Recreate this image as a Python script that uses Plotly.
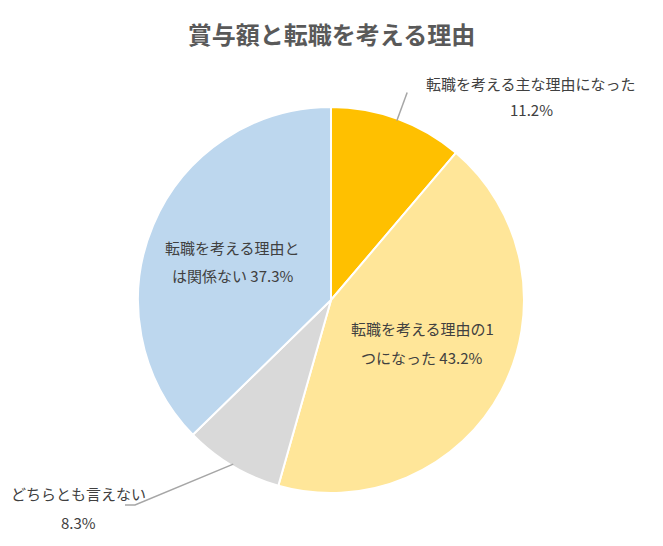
import math
import plotly.graph_objects as go

title = "賞与額と転職を考える理由"
labels = ["転職を考える主な理由になった", "転職を考える理由の1つになった", "どちらとも言えない", "転職を考える理由とは関係ない"]
values = [11.2, 43.2, 8.3, 37.3]
colors = ["#FFC000", "#FFE699", "#D9D9D9", "#BDD7EE"]
label_lines = [
    ["転職を考える主な理由になった", "11.2%"],
    ["転職を考える理由の1", "つになった 43.2%"],
    ["どちらとも言えない", "8.3%"],
    ["転職を考える理由と", "は関係ない 37.3%"],
]

W, H = 663, 546
cx, cy, R = 331, 300, 193  # pixel centre / radius of pie

def px(x):
    return x / W

def py(y):
    return 1 - y / H

fig = go.Figure(go.Pie(
    labels=labels, values=values, sort=False, direction="clockwise", rotation=0,
    marker=dict(colors=colors, line=dict(color="white", width=2)),
    textinfo="none", hoverinfo="label+percent", showlegend=False,
    domain=dict(x=[px(cx - R), px(cx + R)], y=[py(cy + R), py(cy - R)]),
))

# slice mid angles (degrees clockwise from top)
total = sum(values)
mids = []
acc = 0
for v in values:
    mids.append((acc + v / 2) / total * 360)
    acc += v

def polar(angle, r):
    a = math.radians(angle)
    return cx + r * math.sin(a), cy - r * math.cos(a)

font = dict(family="Noto Sans CJK JP, Meiryo, sans-serif", size=15, color="#404040")

# label placements: (centre x, first line y, second line y) in pixels
ann_pos = [(531, 83, 110), (422, 328, 357), (78, 493, 522), (233, 248, 275)]
for lines, (x, ya, yb) in zip(label_lines, ann_pos):
    for t, y in zip(lines, (ya, yb)):
        fig.add_annotation(x=px(x), y=py(y), xref="paper", yref="paper", text=t,
                           showarrow=False, font=font, align="center",
                           xanchor="center", yanchor="middle")

# leader lines
line_style = dict(color="#A6A6A6", width=1.5)
x0, y0 = polar(mids[0], R - 2)
x1, y1 = polar(mids[0], R + 28)
fig.add_shape(type="line", xref="paper", yref="paper", x0=px(x0), y0=py(y0), x1=px(x1), y1=py(y1), line=line_style)
x0, y0 = polar(mids[2], R - 2)
fig.add_shape(type="path", xref="paper", yref="paper",
              path=f"M {px(x0)} {py(y0)} L {px(135)} {py(505)} L {px(125)} {py(505)}",
              line=line_style)

fig.update_layout(
    width=W, height=H, margin=dict(l=0, r=0, t=0, b=0),
    paper_bgcolor="white", plot_bgcolor="white",
    title=dict(text=f"<b>{title}</b>", x=0.5, xanchor="center", y=1 - 36 / H, yanchor="middle",
               font=dict(family="Noto Sans CJK JP, Meiryo, sans-serif", size=24, color="#595959")),
)

fig.write_html("out.html")
